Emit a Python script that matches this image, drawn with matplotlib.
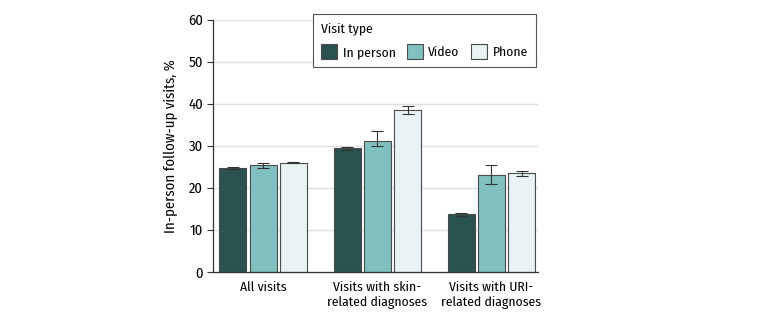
import numpy as np
import matplotlib
matplotlib.use("Agg")
import matplotlib.pyplot as plt

plt.rcParams['font.family'] = ['Fira Sans Condensed', 'DejaVu Sans']
plt.rcParams['font.weight'] = 'normal'

# --- Data ---
categories = ['All visits', 'Visits with skin-\nrelated diagnoses',
              'Visits with URI-\nrelated diagnoses']
visit_types = ['In person', 'Video', 'Phone']
values = {
    'In person': [24.7, 29.4, 13.7],
    'Video':     [25.3, 31.2, 23.1],
    'Phone':     [25.95, 38.5, 23.5],
}
err_low = {
    'In person': [24.4, 29.0, 13.4],
    'Video':     [24.8, 29.9, 21.0],
    'Phone':     [25.8, 37.6, 22.9],
}
err_high = {
    'In person': [25.0, 29.8, 14.0],
    'Video':     [25.8, 33.5, 25.3],
    'Phone':     [26.1, 39.5, 24.0],
}
colors = {'In person': '#2a5250', 'Video': '#80c0bf', 'Phone': '#e9f3f4'}

FS = 9.8

fig = plt.figure(figsize=(7.8, 3.21), dpi=100)
ax = fig.add_axes([0.273, 0.153, 0.417, 0.786])

x = np.arange(len(categories))
width = 0.236
step = 0.265
for i, vt in enumerate(visit_types):
    pos = x + (i - 1) * step
    vals = np.array(values[vt])
    lo = vals - np.array(err_low[vt])
    hi = np.array(err_high[vt]) - vals
    ax.bar(pos, vals, width, color=colors[vt], edgecolor='#4a4a4a',
           linewidth=0.8, label=vt, zorder=2)
    ax.errorbar(pos, vals, yerr=[lo, hi], fmt='none', ecolor='#333333',
                elinewidth=0.8, capsize=4.5, capthick=0.8, zorder=3)

ax.set_xlim(-0.44, 2.41)
ax.set_ylim(0, 60)
ax.set_yticks(range(0, 61, 10))
ax.yaxis.grid(True, color='#e0e0e0', linewidth=1.0, zorder=0)
ax.set_axisbelow(True)
ax.set_xticks(x)
ax.set_xticklabels(categories, fontsize=FS)
ax.tick_params(axis='x', length=0, pad=7)
ax.tick_params(axis='y', labelsize=FS + 0.8, length=4, color='#333333', pad=3)
ax.set_ylabel('In-person follow-up visits, %', fontsize=FS + 0.8, labelpad=7)

for s in ['top', 'right']:
    ax.spines[s].set_visible(False)
for s in ['left', 'bottom']:
    ax.spines[s].set_color('#333333')
    ax.spines[s].set_linewidth(0.9)

leg = ax.legend(title='Visit type', ncol=3, loc='upper left',
                bbox_to_anchor=(0.401, 0.957), bbox_transform=fig.transFigure,
                borderaxespad=0, fontsize=FS, title_fontsize=FS,
                frameon=True, fancybox=False, edgecolor='#555555',
                handlelength=1.2, handleheight=1.25, columnspacing=0.8,
                handletextpad=0.4, borderpad=0.6, labelspacing=0.7,
                framealpha=1)
leg._legend_box.align = 'left'
leg.get_frame().set_linewidth(0.8)

fig.savefig('out.png', dpi=100)
